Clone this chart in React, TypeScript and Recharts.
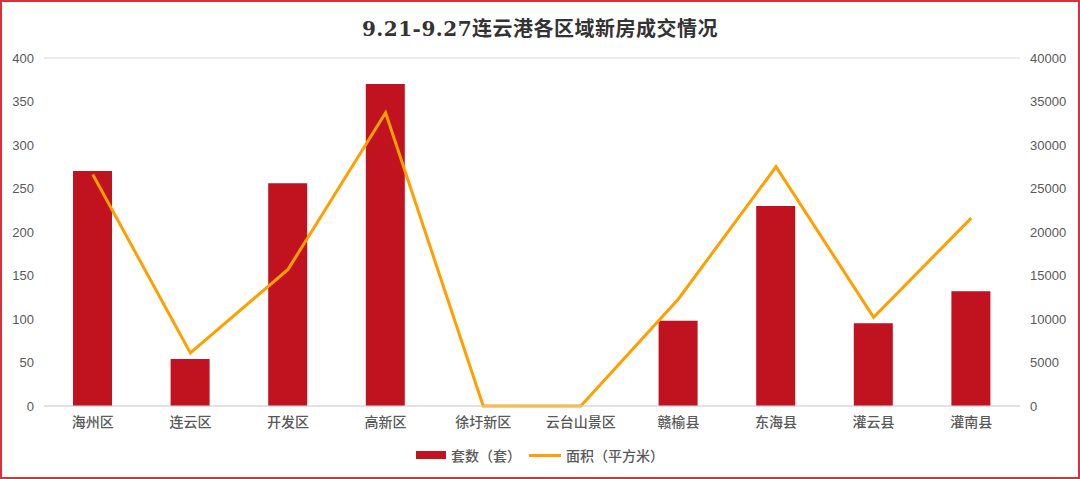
import React from 'react';
import { ComposedChart, Bar, Line, XAxis, YAxis, CartesianGrid, Legend } from 'recharts';

const categories = ['海州区', '连云区', '开发区', '高新区', '徐圩新区', '云台山景区', '赣榆县', '东海县', '灌云县', '灌南县'];
const units = [270, 54, 256, 370, 0, 0, 98, 230, 95, 132];
const area = [26600, 6100, 15700, 33700, 0, 0, 12300, 27500, 10200, 21600];
const leftTicks = [0, 50, 100, 150, 200, 250, 300, 350, 400];
const rightTicks = [0, 5000, 10000, 15000, 20000, 25000, 30000, 35000, 40000];

const data = categories.map((name, i) => ({ name, units: units[i], area: area[i] }));

const BAR = '#C0121F';
const LINE = '#FF9F00';
const TXT = '#595959';

const renderLegend = () => (
  <div style={{ display: 'flex', justifyContent: 'center', alignItems: 'center', fontFamily: '"Noto Sans CJK SC", sans-serif', fontSize: 14, color: TXT, fontWeight: 500 }}>
    <span style={{ display: 'inline-block', width: 30, height: 8, background: BAR, marginRight: 5 }} />
    <span style={{ marginRight: 8 }}>套数（套）</span>
    <span style={{ display: 'inline-block', width: 32, height: 3, background: LINE, marginRight: 5 }} />
    <span>面积（平方米）</span>
  </div>
);

export default function App() {
  return (
    <div style={{ position: 'absolute', left: 0, top: 0, width: 1080, height: 479, boxSizing: 'border-box', border: '2px solid #D9303C', background: '#fff', overflow: 'hidden' }}>
      <div style={{ position: 'absolute', left: 0, top: 11, width: 1076, textAlign: 'center', fontFamily: '"DejaVu Serif", "Noto Sans CJK SC", serif', fontSize: 20, fontWeight: 'bold', color: '#333333', letterSpacing: 0.5 }}>
        9.21-9.27连云港各区域新房成交情况
      </div>
      <div style={{ position: 'absolute', left: -2, top: -2 }}>
        <ComposedChart width={1080} height={479} data={data} margin={{ top: 58, right: 0, left: 0, bottom: 23 }} barCategoryGap={0}>
          <CartesianGrid vertical={false} stroke="#d9d9d9" />
          <XAxis dataKey="name" axisLine={{ stroke: '#d9d9d9' }} tickLine={false} interval={0} height={30} tickMargin={5}
            tick={{ fill: TXT, fontSize: 14, fontFamily: '"Noto Sans CJK SC", sans-serif', fontWeight: 500 }} />
          <YAxis yAxisId="l" orientation="left" width={44} domain={[0, 400]} ticks={leftTicks} axisLine={false} tickLine={false} tickMargin={4}
            tick={{ fill: TXT, fontSize: 13, fontFamily: '"Liberation Sans", Arial, sans-serif' }} />
          <YAxis yAxisId="r" orientation="right" width={60} domain={[0, 40000]} ticks={rightTicks} axisLine={false} tickLine={false} tickMargin={4}
            tick={{ fill: TXT, fontSize: 13, fontFamily: '"Liberation Sans", Arial, sans-serif', textAnchor: 'start' }} />
          <Legend verticalAlign="bottom" content={renderLegend} wrapperStyle={{ bottom: 14 }} />
          <Bar yAxisId="l" dataKey="units" name="套数（套）" fill={BAR} barSize={39} isAnimationActive={false} />
          <Line yAxisId="r" dataKey="area" name="面积（平方米）" stroke={LINE} strokeWidth={3} dot={false} type="linear" isAnimationActive={false} />
        </ComposedChart>
      </div>
    </div>
  );
}
